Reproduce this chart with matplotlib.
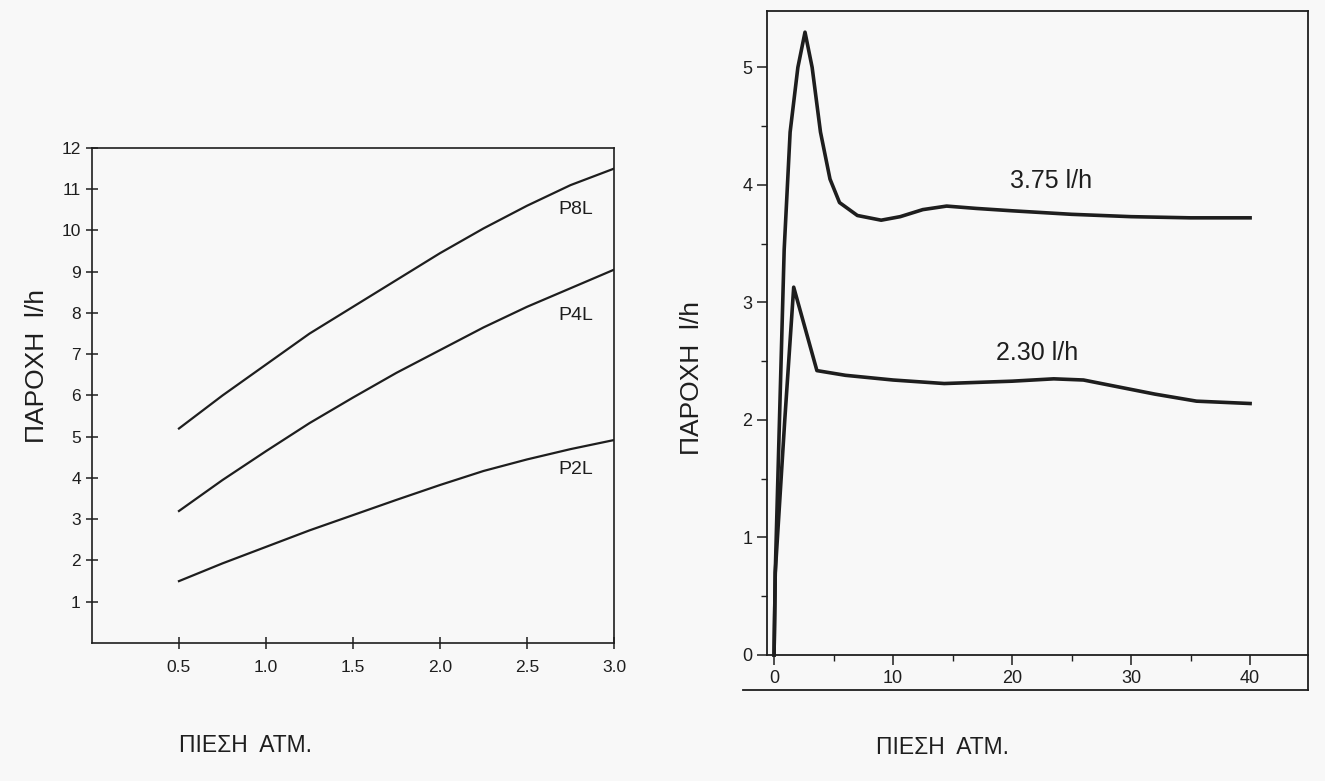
import matplotlib.pyplot as plt
from matplotlib.ticker import MultipleLocator

plt.rcParams['font.family'] = ['Liberation Sans', 'DejaVu Sans']

# left panel: flow vs pressure for three drippers
pressure = [0.5, 0.75, 1.0, 1.25, 1.5, 1.75, 2.0, 2.25, 2.5, 2.75, 3.0]
p8l = [5.2, 6.0, 6.75, 7.5, 8.15, 8.8, 9.45, 10.05, 10.6, 11.1, 11.5]
p4l = [3.2, 3.95, 4.65, 5.33, 5.95, 6.55, 7.1, 7.65, 8.15, 8.6, 9.05]
p2l = [1.5, 1.93, 2.33, 2.73, 3.1, 3.47, 3.83, 4.17, 4.45, 4.7, 4.92]
left_names = ['P8L', 'P4L', 'P2L']
left_label_y = [10.5, 7.95, 4.2]

# right panel: flow vs pressure, compensating drippers
x_hi = [0, 0.1, 0.85, 1.35, 2.0, 2.6, 3.2, 3.9, 4.7, 5.5, 7.0, 9.0, 10.6,
        12.5, 14.5, 17, 20, 25, 30, 35, 40]
y_hi = [0, 0.7, 3.45, 4.45, 5.0, 5.3, 5.0, 4.45, 4.05, 3.85, 3.74, 3.70, 3.73,
        3.79, 3.82, 3.80, 3.78, 3.75, 3.73, 3.72, 3.72]
x_lo = [0, 0.1, 0.9, 1.65, 3.6, 6, 10, 14.3, 20, 23.5, 26, 28.5, 32, 35.5, 40]
y_lo = [0, 0.7, 2.0, 3.13, 2.42, 2.38, 2.34, 2.31, 2.33, 2.35, 2.34, 2.29,
        2.22, 2.16, 2.14]
right_names = ['3.75 l/h', '2.30 l/h']
right_label_pos = [(23.3, 4.03), (22.1, 2.57)]

ink = '#1e1e1e'
bg = '#f8f8f8'

fig = plt.figure(figsize=(13.25, 7.81), dpi=100, facecolor=bg)

# ---- left
ax1 = fig.add_axes([0.0694, 0.1767, 0.394, 0.6338], facecolor=bg)
for ys in [p8l, p4l, p2l]:
    ax1.plot(pressure, ys, color=ink, lw=1.6)
for name, ly in zip(left_names, left_label_y):
    ax1.text(2.78, ly, name, fontsize=14, color=ink, ha='center', va='center')
ax1.set_xlim(0, 3.0)
ax1.set_ylim(0, 12)
ax1.set_xticks([0.5, 1.0, 1.5, 2.0, 2.5, 3.0])
ax1.set_xticklabels(['0.5', '1.0', '1.5', '2.0', '2.5', '3.0'])
ax1.set_yticks(range(1, 13))
ax1.tick_params(direction='inout', length=9, width=1.1, colors=ink, labelsize=12.5)
ax1.tick_params(axis='x', pad=8)
for s in ax1.spines.values():
    s.set_color(ink)
    s.set_linewidth(1.2)

# ---- right
ylow = -0.298
ytop = 5.48
ax2 = fig.add_axes([0.5789, 0.1165, 0.4083, 0.8694], facecolor=bg)
ax2.plot(x_hi, y_hi, color=ink, lw=2.6)
ax2.plot(x_lo, y_lo, color=ink, lw=2.6)
for name, (tx, ty) in zip(right_names, right_label_pos):
    ax2.text(tx, ty, name, fontsize=18, color=ink, ha='center', va='center')
ax2.spines['bottom'].set_position(('data', 0))
ax2.spines['left'].set_bounds(0, ytop)
ax2.set_xticks([0, 10, 20, 30, 40])
ax2.xaxis.set_minor_locator(MultipleLocator(5))
ax2.set_yticks(range(0, 6))
ax2.yaxis.set_minor_locator(MultipleLocator(0.5))
ax2.set_xlim(-0.59, 44.87)
ax2.set_ylim(ylow, ytop)
ax2.tick_params(which='major', direction='out', length=7, width=1.1,
                colors=ink, labelsize=13)
ax2.tick_params(which='minor', direction='out', length=4, width=1.0, colors=ink)
for s in ax2.spines.values():
    s.set_color(ink)
    s.set_linewidth(1.3)
ax2.axhline(ylow, xmin=-0.045, xmax=1, color=ink, lw=1.3, clip_on=False)

# axis titles
fig.text(0.028, 0.531, 'ΠΑΡΟΧΗ  l/h', rotation=90, fontsize=19,
         color=ink, ha='center', va='center')
fig.text(0.522, 0.516, 'ΠΑΡΟΧΗ  l/h', rotation=90, fontsize=19,
         color=ink, ha='center', va='center')
fig.text(0.185, 0.046, 'ΠΙΕΣΗ  ΑΤΜ.', fontsize=16.5, color=ink,
         ha='center', va='center')
fig.text(0.711, 0.043, 'ΠΙΕΣΗ  ΑΤΜ.', fontsize=16.5, color=ink,
         ha='center', va='center')

fig.savefig('out.png', dpi=100, facecolor=bg)
